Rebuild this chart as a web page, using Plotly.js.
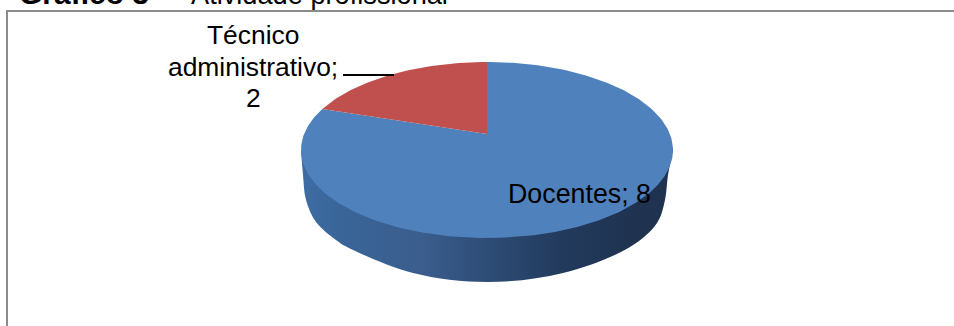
<!DOCTYPE html>
<html><head><meta charset="utf-8">
<script src="https://cdn.plot.ly/plotly-3.0.1.min.js"></script>
<style>html,body{margin:0;padding:0;background:#fff;overflow:hidden}</style>
</head><body><div id="chart" style="width:954px;height:326px"></div>
<script>
const categories = ['Docentes', 'Técnico administrativo'];
const values = [8, 2];
const colors = ['#4f81bd', '#c0504d'];
const sideStops = [[0,'#3d6ca4'],[0.1,'#3a6599'],[0.33,'#3a5d8c'],[0.5,'#2e4d76'],[0.7,'#223a5c'],[0.9,'#1f3350'],[1,'#1f3350']];
const labelLines = ['Técnico', 'administrativo;', String(values[1])];
const labelLineY = [35, 67, 98];
const wallX = [673, 668, 665, 657, 630, 563, 487, 413, 347, 336, 316, 306, 303, 301];
const wallY = [150, 175, 200, 223, 247, 273, 282, 273, 247, 240, 222, 200, 175, 150];

/* pie geometry in axis units (1 unit = 1 px), with perspective tilt */
const cx = 487, cy = 150, ry = 88, rx = 186, tilt = 16 / ry;
const a = rx * Math.sqrt(1 - tilt * tilt);
const total = values.reduce((s, v) => s + v, 0);
function project(th) {
  const u = Math.sin(th), v = Math.cos(th), w = 1 + tilt * v;
  return [cx + a * u / w, cy - (ry * v + 16) / w];
}
function arc(from, to) {
  const xs = [], ys = [], n = Math.ceil(Math.abs(to - from) * 60);
  for (let i = 0; i <= n; i++) {
    const p = project(from + (to - from) * i / n);
    xs.push(p[0]); ys.push(p[1]);
  }
  return [xs, ys];
}
const hub = [cx, cy - 16];
const traces = [];

/* side wall */
traces.push({type:'scatter', mode:'lines', x:wallX, y:wallY, fill:'toself',
  line:{width:0, shape:'spline', smoothing:1},
  fillgradient:{type:'horizontal', colorscale:sideStops}, hoverinfo:'skip', showlegend:false});

/* slices: first category runs clockwise from the top */
let start = 0;
values.forEach((val, i) => {
  const sweep = 2 * Math.PI * val / total;
  const [xs, ys] = arc(start, start + sweep);
  traces.push({type:'scatter', mode:'lines', name:categories[i],
    x:[hub[0], ...xs, hub[0]], y:[hub[1], ...ys, hub[1]],
    fill:'toself', fillcolor:colors[i], line:{width:0, color:colors[i]}, showlegend:false});
  start += sweep;
});

const family = '"Liberation Sans", Arial, sans-serif';
const font = {family:family, size:26.4, color:'#000'};
const titleAnn = (x, text, size) => ({x:x, xanchor:'left', xref:'x', y:1, yref:'paper', yanchor:'bottom',
  yshift:-12, showarrow:false, align:'left', font:{family:family, size:size, color:'#000'}, text:text});
const layout = {
  width:954, height:326, margin:{l:0, r:0, t:0, b:0},
  paper_bgcolor:'#fff', plot_bgcolor:'rgba(0,0,0,0)', showlegend:false,
  xaxis:{range:[0,954], visible:false, fixedrange:true},
  yaxis:{range:[326,0], visible:false, fixedrange:true},
  shapes:[
    {type:'line', xref:'x', yref:'y', x0:7, y0:326, x1:7, y1:11, line:{color:'#8c8c8c', width:2}},
    {type:'line', xref:'x', yref:'y', x0:6, y0:11, x1:954, y1:11, line:{color:'#8c8c8c', width:2}},
    {type:'line', xref:'x', yref:'y', x0:343, y0:75, x1:394, y1:75, line:{color:'#000', width:2}}
  ],
  annotations:[
    {x:579, y:194, xref:'x', yref:'y', showarrow:false, font:{family:family, size:26.8, color:'#000'},
     text:categories[0] + '; ' + values[0]},
    ...labelLines.map((t, i) => ({x:253, y:labelLineY[i], xref:'x', yref:'y', showarrow:false, font:font, text:t})),
    titleAnn(17, '<b>Gráfico 3</b>', 30),
    titleAnn(160, '–', 27),
    titleAnn(189, 'Atividade profissional', 27.2)
  ]
};
Plotly.newPlot('chart', traces, layout, {staticPlot:true, displayModeBar:false});
</script></body></html>
